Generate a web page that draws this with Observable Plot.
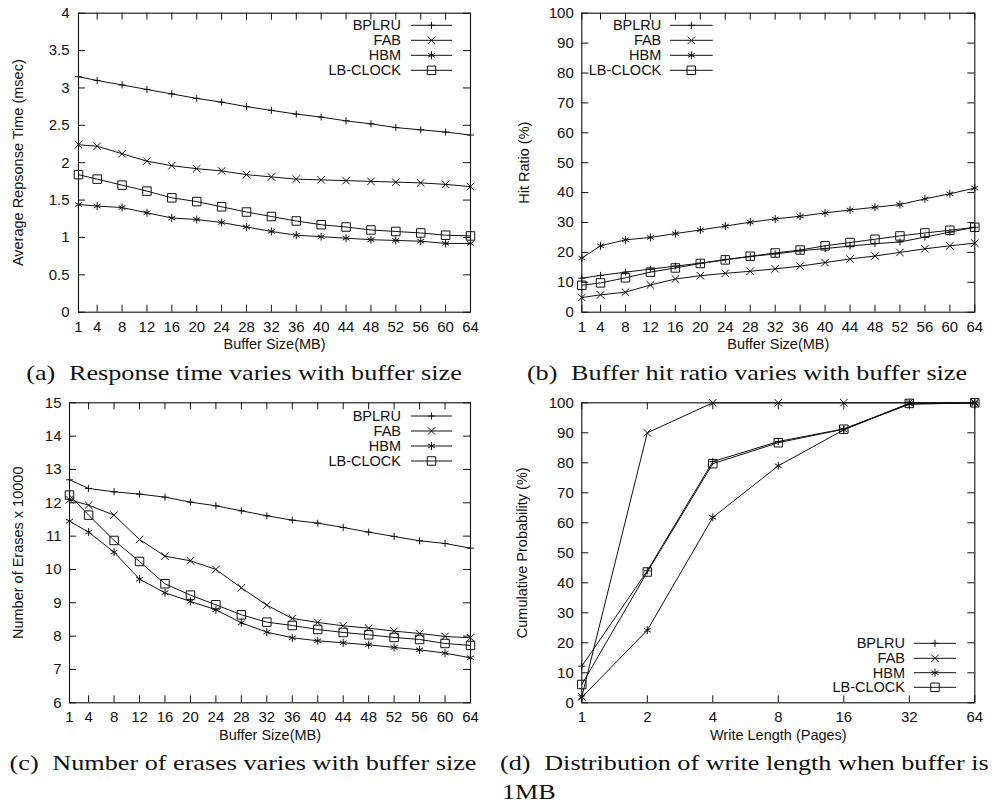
<!DOCTYPE html>
<html><head><meta charset="utf-8">
<script src="https://cdn.jsdelivr.net/npm/d3@7"></script>
<script src="https://cdn.jsdelivr.net/npm/@observablehq/plot@0.6"></script>
<style>
body{margin:0;background:#fff;width:997px;height:807px;position:relative;overflow:hidden}
.panel{position:absolute}
.cap{position:absolute;font-family:"Liberation Serif","Times New Roman",serif;font-size:22px;white-space:nowrap;color:#111;line-height:24px}
.cap .lab{margin-right:6px}
.ctr{transform:translateX(-50%) scaleX(1.19)}
.lft{transform-origin:left center;transform:scaleX(1.19)}
</style></head><body>
<div id="pa" class="panel" style="left:0;top:0"></div>
<div id="pb" class="panel" style="left:497px;top:0"></div>
<div id="pc" class="panel" style="left:0;top:390px"></div>
<div id="pd" class="panel" style="left:497px;top:390px"></div>
<div class="cap ctr" style="left:244px;top:361px"><span class="lab">(a)</span> Response time varies with buffer size</div>
<div class="cap ctr" style="left:747px;top:361px"><span class="lab">(b)</span> Buffer hit ratio varies with buffer size</div>
<div class="cap ctr" style="left:243px;top:751px"><span class="lab">(c)</span> Number of erases varies with buffer size</div>
<div class="cap lft" style="left:500px;top:751px"><span class="lab">(d)</span> Distribution of write length when buffer is</div>
<div class="cap lft" style="left:502px;top:780px">1MB</div>
<script>
// ---------- data ----------
const seriesNames = ["BPLRU", "FAB", "HBM", "LB-CLOCK"];
const bufferSizes = [1, 4, 8, 12, 16, 20, 24, 28, 32, 36, 40, 44, 48, 52, 56, 60, 64];
const writeLengths = [1, 2, 4, 8, 16, 32, 64];

// (a) average response time (msec)
const respBPLRU = [3.15, 3.10, 3.04, 2.98, 2.92, 2.86, 2.81, 2.75, 2.70, 2.65, 2.61, 2.56, 2.52, 2.47, 2.44, 2.41, 2.37];
const respFAB   = [2.24, 2.22, 2.12, 2.02, 1.96, 1.92, 1.89, 1.84, 1.81, 1.78, 1.77, 1.76, 1.75, 1.74, 1.73, 1.71, 1.68];
const respHBM   = [1.44, 1.42, 1.40, 1.33, 1.26, 1.24, 1.20, 1.14, 1.08, 1.03, 1.01, 0.99, 0.97, 0.96, 0.95, 0.92, 0.92];
const respLB    = [1.84, 1.78, 1.70, 1.62, 1.53, 1.48, 1.41, 1.34, 1.28, 1.22, 1.17, 1.14, 1.10, 1.08, 1.06, 1.03, 1.02];

// (b) hit ratio (%)
const hitBPLRU = [11.4, 12.3, 13.4, 14.4, 15.4, 16.4, 17.6, 18.6, 19.5, 20.5, 21.3, 22.1, 22.9, 23.5, 25.1, 26.8, 28.4];
const hitFAB   = [4.9, 5.8, 6.7, 9.1, 11.1, 12.2, 13.0, 13.7, 14.5, 15.4, 16.6, 17.8, 18.8, 20.0, 21.2, 22.2, 23.1];
const hitHBM   = [18.1, 22.2, 24.2, 25.0, 26.3, 27.5, 28.8, 30.1, 31.2, 32.1, 33.2, 34.2, 35.1, 36.0, 37.9, 39.6, 41.5];
const hitLB    = [9.0, 9.8, 11.5, 13.4, 14.8, 16.3, 17.5, 18.7, 19.8, 20.8, 22.2, 23.3, 24.4, 25.5, 26.5, 27.4, 28.4];

// (c) number of erases x 10000
const eraseBPLRU = [12.69, 12.43, 12.33, 12.26, 12.17, 12.02, 11.91, 11.76, 11.61, 11.48, 11.39, 11.26, 11.12, 10.99, 10.86, 10.78, 10.64];
const eraseFAB   = [12.09, 11.93, 11.63, 10.90, 10.40, 10.26, 10.00, 9.45, 8.93, 8.53, 8.41, 8.31, 8.24, 8.15, 8.08, 7.99, 7.95];
const eraseHBM   = [11.45, 11.12, 10.52, 9.71, 9.30, 9.04, 8.79, 8.40, 8.12, 7.95, 7.86, 7.80, 7.74, 7.66, 7.59, 7.49, 7.35];
const eraseLB    = [12.23, 11.63, 10.87, 10.24, 9.57, 9.23, 8.94, 8.64, 8.42, 8.32, 8.20, 8.11, 8.04, 7.96, 7.90, 7.78, 7.72];

// (d) cumulative probability (%) of write length, buffer 1MB
const cdfBPLRU = [12.2, 44.0, 80.4, 87.1, 91.3, 99.5, 100];
const cdfFAB   = [2.0, 90.0, 100, 100, 100, 100, 100];
const cdfHBM   = [1.8, 24.2, 61.8, 79.0, 91.0, 99.7, 100];
const cdfLB    = [6.1, 43.6, 79.7, 86.7, 91.2, 99.8, 100];

// tick labels
const yTicksA = [0, 0.5, 1, 1.5, 2, 2.5, 3, 3.5, 4];
const yTicksB = [0, 10, 20, 30, 40, 50, 60, 70, 80, 90, 100];
const yTicksC = [6, 7, 8, 9, 10, 11, 12, 13, 14, 15];
const yTicksD = [0, 10, 20, 30, 40, 50, 60, 70, 80, 90, 100];

// ---------- styling ----------
const symbolOf = {"BPLRU": ["plus", 2.4, d3.symbolPlus], "FAB": ["times", 3.5, d3.symbolTimes],
  "HBM": ["asterisk", 3.76, d3.symbolAsterisk], "LB-CLOCK": ["square2", 5.4, d3.symbolSquare2]};
const FONT = "'Liberation Sans', Arial, Helvetica, sans-serif";

function tidy(xs, arrays) {
  return seriesNames.flatMap((s, i) => xs.map((x, j) => ({series: s, x, y: arrays[i][j]})));
}

function chart(el, o) {
  const {width, height, ml, mr, mt, mb} = o;
  const plotW = width - ml - mr, plotH = height - mt - mb;
  const data = tidy(o.xs, o.arrays);
  const marks = [
    Plot.tickX(o.xTicks, {x: d => d, insetTop: plotH - 7, stroke: "#111"}),
    Plot.tickX(o.xTicks, {x: d => d, insetBottom: plotH - 7, stroke: "#111"}),
    Plot.tickY(o.yTicks, {y: d => d, insetRight: plotW - 7, stroke: "#111"}),
    Plot.tickY(o.yTicks, {y: d => d, insetLeft: plotW - 7, stroke: "#111"}),
    Plot.axisX(o.xTicks, {tickSize: 0, tickPadding: 9, tickFormat: d => String(d), label: null, fontSize: 15}),
    Plot.axisY(o.yTicks, {tickSize: 0, tickPadding: o.yPad, tickFormat: d => String(d), label: null, fontSize: 15}),
    Plot.line(data, {x: "x", y: "y", z: "series", stroke: "#111", strokeWidth: 1}),
    ...seriesNames.map(s => Plot.dot(data.filter(d => d.series === s), {
      x: "x", y: "y", symbol: () => symbolOf[s][0], r: symbolOf[s][1], stroke: "#111", fill: "none", strokeWidth: 1})),
    Plot.frame({stroke: "#111", strokeWidth: 1.1}),
    Plot.text([o.xTitle], {frameAnchor: "bottom", dy: 37, text: d => d, fontSize: 14.5, fill: "#111"}),
    Plot.text([o.yTitle], {frameAnchor: "left", textAnchor: "middle", rotate: -90, dx: o.yTitleDx, text: d => d, fontSize: 14.5, fill: "#111"})
  ];
  const svg = Plot.plot({
    width, height, marginLeft: ml, marginRight: mr, marginTop: mt, marginBottom: mb,
    style: {fontFamily: FONT, fontSize: "15px", color: "#111", background: "white", overflow: "visible"},
    x: {type: o.xType, base: o.xType === "log" ? 2 : undefined, domain: o.xDomain},
    y: {domain: o.yDomain},
    symbol: {type: "identity"},
    marks
  });
  // legend
  const L = o.legend;
  const g = d3.select(svg).append("g").attr("font-family", FONT).attr("font-size", 14.5).attr("fill", "#111");
  seriesNames.forEach((s, i) => {
    const y = L.rows[i];
    g.append("text").attr("x", L.textEnd).attr("y", y).attr("dy", "0.35em").attr("text-anchor", "end").text(s);
    g.append("line").attr("x1", L.x1).attr("x2", L.x2).attr("y1", y).attr("y2", y).attr("stroke", "#111");
    const r = symbolOf[s][1];
    g.append("path").attr("d", d3.symbol(symbolOf[s][2], r * r * Math.PI)())
      .attr("transform", `translate(${(L.x1 + L.x2) / 2},${y})`).attr("fill", "none").attr("stroke", "#111");
  });
  document.getElementById(el).appendChild(svg);
}

chart("pa", {width: 497, height: 360, ml: 78, mr: 27, mt: 12.7, mb: 48.3,
  xs: bufferSizes, arrays: [respBPLRU, respFAB, respHBM, respLB], xType: "linear", xDomain: [1, 64],
  xTicks: bufferSizes, yTicks: yTicksA, yDomain: [0, 4], yPad: 9,
  xTitle: "Buffer Size(MB)", yTitle: "Average Repsonse Time (msec)", yTitleDx: -60,
  legend: {textEnd: 401, x1: 411, x2: 452, rows: [25.3, 40.3, 55.3, 70.3]}});

chart("pb", {width: 500, height: 360, ml: 84.3, mr: 22.7, mt: 12.7, mb: 48.3,
  xs: bufferSizes, arrays: [hitBPLRU, hitFAB, hitHBM, hitLB], xType: "linear", xDomain: [1, 64],
  xTicks: bufferSizes, yTicks: yTicksB, yDomain: [0, 100], yPad: 8,
  xTitle: "Buffer Size(MB)", yTitle: "Hit Ratio (%)", yTitleDx: -57,
  legend: {textEnd: 164.3, x1: 173, x2: 215.7, rows: [25.3, 40.3, 55.3, 70.3]}});

chart("pc", {width: 497, height: 360, ml: 69, mr: 27, mt: 12.3, mb: 47.7,
  xs: bufferSizes, arrays: [eraseBPLRU, eraseFAB, eraseHBM, eraseLB], xType: "linear", xDomain: [1, 64],
  xTicks: bufferSizes, yTicks: yTicksC, yDomain: [6, 15], yPad: 8,
  xTitle: "Buffer Size(MB)", yTitle: "Number of Erases x 10000", yTitleDx: -51,
  legend: {textEnd: 401, x1: 411, x2: 452, rows: [26, 41, 56, 71]}});

chart("pd", {width: 500, height: 360, ml: 84.3, mr: 22.7, mt: 12.3, mb: 47.7,
  xs: writeLengths, arrays: [cdfBPLRU, cdfFAB, cdfHBM, cdfLB], xType: "log", xDomain: [1, 64],
  xTicks: writeLengths, yTicks: yTicksD, yDomain: [0, 100], yPad: 8,
  xTitle: "Write Length (Pages)", yTitle: "Cumulative Probability (%)", yTitleDx: -59,
  legend: {textEnd: 408, x1: 417, x2: 459, rows: [253.3, 268.3, 282.7, 297.3]}});
</script>
</body></html>
